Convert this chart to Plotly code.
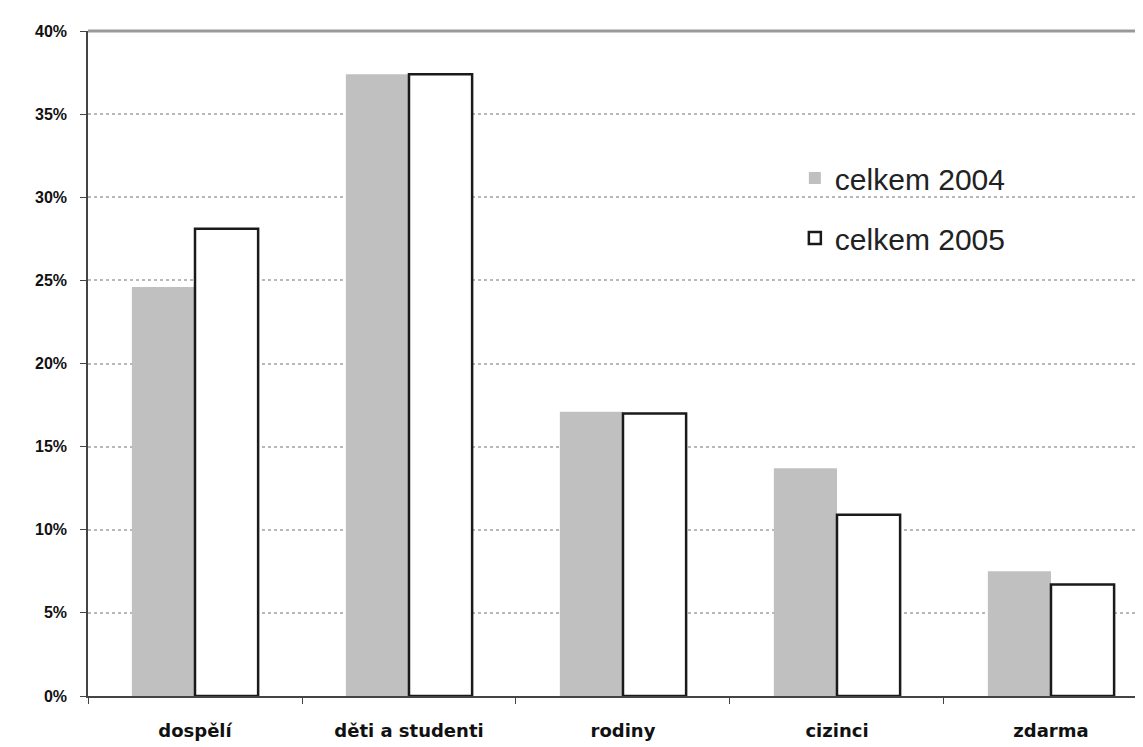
import plotly.graph_objects as go

categories = ["dospělí", "děti a studenti", "rodiny", "cizinci", "zdarma"]
values_2004 = [24.6, 37.4, 17.1, 13.7, 7.5]
values_2005 = [28.1, 37.4, 17.0, 10.9, 6.7]
series_names = ["celkem 2004", "celkem 2005"]
y_ticks = [0, 5, 10, 15, 20, 25, 30, 35, 40]
y_tick_labels = ["0%", "5%", "10%", "15%", "20%", "25%", "30%", "35%", "40%"]

fig = go.Figure()
fig.add_trace(go.Bar(
    x=categories, y=values_2004, name=series_names[0],
    marker=dict(color="#c0c0c0", line=dict(width=0)),
    legendgroup="a",
))
fig.add_trace(go.Bar(
    x=categories, y=values_2005, name=series_names[1],
    marker=dict(color="white", line=dict(color="#1a1a1a", width=2.5)),
    legendgroup="b",
))

fig.update_layout(
    width=1143, height=747,
    margin=dict(l=80, r=8, t=23, b=59),
    paper_bgcolor="white", plot_bgcolor="white",
    barmode="group", bargap=0.41, bargroupgap=0,
    font=dict(family="Liberation Sans, Arial, sans-serif", color="#111"),
    legend=dict(
        x=0.67, y=0.818, xanchor="left", yanchor="top",
        font=dict(size=30, color="#222"),
        bgcolor="rgba(0,0,0,0)",
        traceorder="grouped", tracegroupgap=18,
        itemwidth=30,
    ),
    showlegend=True,
)
fig.update_xaxes(
    range=[-0.5, 4.43],
    showline=True, linecolor="#444", linewidth=1.5,
    ticks="outside", tickson="boundaries", ticklen=6, tickcolor="#444",
    showgrid=False, ticklabelstandoff=18,
    tickfont=dict(size=18, family="DejaVu Sans, sans-serif", weight="bold", color="#111"),
)
fig.update_yaxes(
    range=[0, 40], tickvals=y_ticks, ticktext=y_tick_labels,
    showline=True, linecolor="#444", linewidth=1.5,
    ticks="outside", ticklen=6, tickcolor="#444",
    showgrid=True, gridcolor="#b8b8b8", griddash="dot", gridwidth=1.5,
    zeroline=False, ticklabelstandoff=10,
    tickfont=dict(size=16, family="Liberation Sans, Arial, sans-serif", weight="bold", color="#111"),
)
fig.add_shape(type="line", xref="paper", yref="paper", x0=0, x1=1, y0=1, y1=1,
              line=dict(color="#999", width=3))

fig.write_html("out.html")
